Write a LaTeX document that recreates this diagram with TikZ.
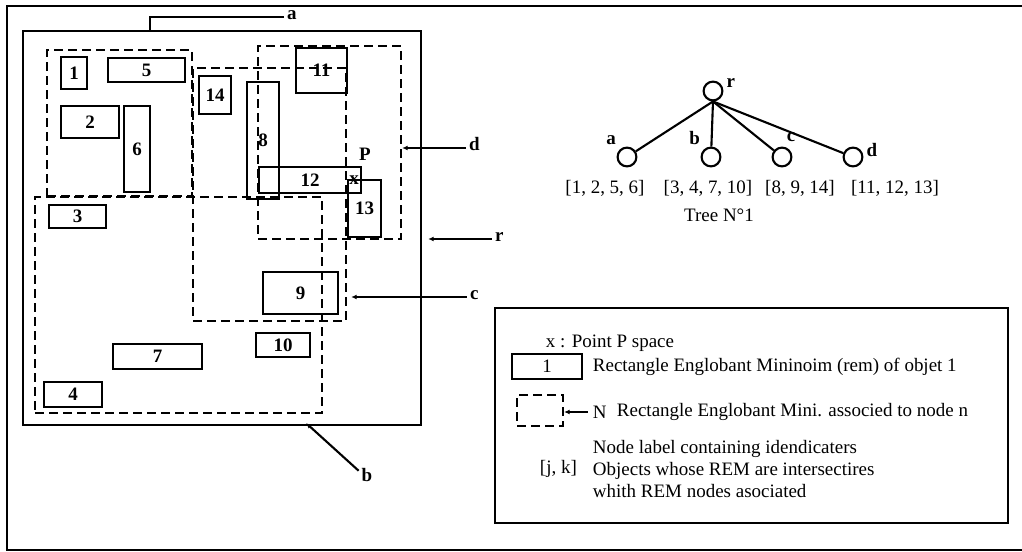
\documentclass[tikz,border=0pt]{standalone}
\usepackage{fontspec}
\setmainfont{Liberation Serif}
\usetikzlibrary{arrows.meta,fit}

\begin{document}
\begin{tikzpicture}[
  x=0.25mm, y=-0.25mm,
  every node/.style={font=\fontsize{13.5}{15.5}\selectfont},
  rem/.style={draw, line width=1.6pt, inner sep=0pt},
  remtext/.style={font=\fontsize{13.5}{15.5}\selectfont\bfseries, inner sep=0pt},
  nodebox/.style={draw, line width=1.6pt, dash pattern=on 2.25mm off 1.25mm, inner sep=0pt},
  tag/.style={font=\fontsize{13.5}{15.5}\selectfont\bfseries, inner sep=2pt,
              text height=1.2ex, text depth=0.4ex},
  callout/.style={{Latex[length=1.4mm,width=1.2mm]}-, line width=1.5pt},
  vertex/.style={draw, circle, line width=1.5pt, minimum size=4.7mm, inner sep=0pt},
  edge/.style={line width=1.5pt}
]
\clip (0,0) rectangle (1022,552);
\draw[line width=1.5pt] (7,6) rectangle (1040,550);

% space and rectangles of the objects
\node[rem, fit={(23,31) (421,425)}] (regionR) {};
\node[rem, fit={(61,57) (87,89)}, label={[remtext]center:1}] (obj1) {};
\node[rem, fit={(108,58) (185,82)}, label={[remtext]center:5}] (obj5) {};
\node[rem, fit={(61,106) (119,138)}, label={[remtext]center:2}] (obj2) {};
\node[rem, fit={(124,106) (150,192)}, label={[remtext]center:6}] (obj6) {};
\node[rem, fit={(199,76) (231,114)}, label={[remtext]center:14}] (obj14) {};
\node[rem, fit={(247,82) (279,199)}, label={[remtext]center:8}] (obj8) {};
\node[rem, fit={(296,48) (347,93)}, label={[remtext]center:11}] (obj11) {};
\node[rem, fit={(259,167) (361,193)}, label={[remtext]center:12}] (obj12) {};
\node[rem, fit={(348,180) (381,237)}, label={[remtext]center:13}] (obj13) {};
\node[rem, fit={(49,205) (106,228)}, label={[remtext]center:3}] (obj3) {};
\node[rem, fit={(263,272) (338,314)}, label={[remtext]center:9}] (obj9) {};
\node[rem, fit={(256,333) (310,357)}, label={[remtext]center:10}] (obj10) {};
\node[rem, fit={(113,344) (202,369)}, label={[remtext]center:7}] (obj7) {};
\node[rem, fit={(44,382) (102,407)}, label={[remtext]center:4}] (obj4) {};

% rectangles of the tree nodes
\node[nodebox, fit={(47,50) (192,196)}] (nodeA) {};
\node[nodebox, fit={(35,197) (322,413)}] (nodeB) {};
\node[nodebox, fit={(193,68) (346,321)}] (nodeC) {};
\node[nodebox, fit={(258,46) (401,239)}] (nodeD) {};

\node[remtext] (pointX) at (354,180) {x};
\node[remtext] (pointP) at (365,154) {P};

% callouts
\node[tag, anchor=west] (lblA) at (284,17) {a};
\node[tag, anchor=west] (lblD) at (466,148) {d};
\node[tag, anchor=west] (lblR) at (492,239) {r};
\node[tag, anchor=west] (lblC) at (467,297) {c};
\node[tag] (lblB) at (367,479) {b};
\coordinate (footA) at (150,31);
\coordinate (tipB) at (306,423);
\draw[edge] (lblA.west) -| (footA);
\draw[callout] (nodeD.east |- lblD.west) -- (lblD.west);
\draw[callout] ([xshift=1.5mm]regionR.east |- lblR.west) -- (lblR.west);
\draw[callout] ([xshift=1mm]nodeC.east |- lblC.west) -- (lblC.west);
\draw[callout] (tipB) -- (lblB.north west);

% tree
\node[vertex, label={[tag, yshift=1.5mm]0:r}] (root) at (713,91) {};
\node[vertex, label={[tag]140:a}] (treeA) at (627,157) {};
\node[vertex, label={[tag]140:b}] (treeB) at (711,157) {};
\node[vertex, label={[tag]80:c}] (treeC) at (782,157) {};
\node[vertex, label={[tag, yshift=0.8mm]0:d}] (treeD) at (853,157) {};
\draw[edge] (root.south) -- (treeA);
\draw[edge] (root.south) -- (treeB);
\draw[edge] (root.south) -- (treeC);
\draw[edge] (root.south) -- (treeD);
\node (listA) at (605,188) {[1, 2, 5, 6]};
\node (listB) at (708,188) {[3, 4, 7, 10]};
\node (listC) at (800,188) {[8, 9, 14]};
\node (listD) at (895,188) {[11, 12, 13]};
\node (treeTitle) at (719,215) {Tree N°1};

% legend
\node[rem, line width=1.4pt, fit={(495,308) (1008,523)}] (legend) {};
\node[anchor=west] (legX) at (541,343) {x : Point P space};
\node[rem, line width=1.4pt, fit={(512,354) (582,379)}, label={center:1}] (legRem) {};
\node[anchor=west] (legRemText) at (588,367) {Rectangle Englobant Mininoim (rem) of objet 1};
\node[anchor=west] (legN) at (588,412) {N};
\node[nodebox, line width=1.4pt, fit={(517,395) (563,426)}] (legNode) {};
\node[anchor=west] (legNodeText) at (612,412) {Rectangle Englobant Mini. associed to node n};
\draw[callout, line width=1.4pt] (legNode.east |- legN.west) -- (legN.west);
\node[anchor=west] (legJK) at (535,469) {[j, k]};
\node[anchor=west, align=left] (legLabel) at (588,469)
  {Node label containing idendicaters\\Objects whose REM are intersectires\\whith REM nodes asociated};
\end{tikzpicture}
\end{document}
